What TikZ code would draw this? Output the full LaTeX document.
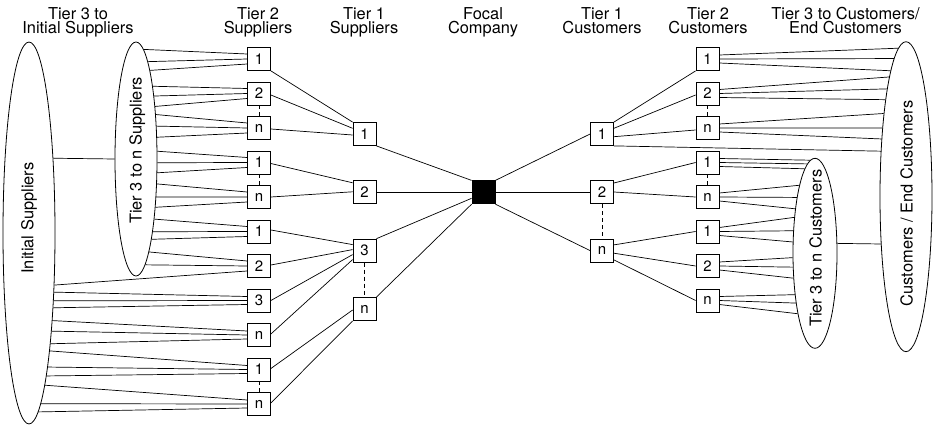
\documentclass[tikz,border=0pt]{standalone}
\usepackage{fontspec}
\setmainfont{TeX Gyre Heros}
\usetikzlibrary{shapes.geometric,calc}
\tikzset{
  box/.style={draw, line width=0.8pt, minimum size=23pt, inner sep=0pt, fill=white, font=\fontsize{15}{17}\selectfont},
  focal/.style={draw, fill=black, line width=0.8pt, minimum size=23pt, inner sep=0pt},
  hdr/.style={align=center, inner sep=0pt, anchor=north, font=\fontsize{16.4}{14.5}\selectfont},
  conn/.style={line width=0.7pt},
  dots/.style={line width=0.7pt, dash pattern=on 4pt off 3pt},
  oval/.style={draw, ellipse, line width=0.8pt, inner sep=0pt},
  ovaltext/.style={rotate=90, anchor=base, inner sep=0pt, font=\fontsize{16.4}{16}\selectfont},
}
\begin{document}
\begin{tikzpicture}[x=1pt,y=-1pt]
\useasboundingbox (0,0) rectangle (935,425);

% headers
\node[hdr] (h1) at (78,7) {Tier 3 to\\Initial Suppliers};
\node[hdr] (h2) at (258,7) {Tier 2\\Suppliers};
\node[hdr] (h3) at (364,7) {Tier 1\\Suppliers};
\node[hdr] (h4) at (483,7) {Focal\\Company};
\node[hdr] (h5) at (602,7) {Tier 1\\Customers};
\node[hdr] (h6) at (708,7) {Tier 2\\Customers};
\node[hdr] (h7) at (845.5,7) {Tier 3 to Customers/\\End Customers};

% ellipses
\node[oval, minimum width=52pt, minimum height=382pt] (IS) at (29,233) {};
\node[oval, minimum width=42pt, minimum height=234pt] (t3s) at (136,159) {};
\node[oval, minimum width=52pt, minimum height=310pt] (CE) at (906,196.7) {};
\node[oval, minimum width=44pt, minimum height=190pt] (t3c) at (815,253.3) {};

\node[ovaltext] (tIS) at (33.4,218) {Initial Suppliers};
\node[ovaltext] (tt3s) at (141.5,150.5) {Tier 3 to n Suppliers};
\node[ovaltext] (tCE) at (912.5,203.3) {Customers / End Customers};
\node[ovaltext] (tt3c) at (821.5,248.3) {Tier 3 to n Customers};

% boxes: tier 2 suppliers
\node[box] (s2a) at (259,59) {1};
\node[box] (s2b) at (259,93.5) {2};
\node[box] (s2c) at (259,128) {n};
\node[box] (s2d) at (259,162.5) {1};
\node[box] (s2e) at (259,197) {n};
\node[box] (s2f) at (259,231.5) {1};
\node[box] (s2g) at (259,266) {2};
\node[box] (s2h) at (259,300.5) {3};
\node[box] (s2i) at (259,335) {n};
\node[box] (s2j) at (259,369.5) {1};
\node[box] (s2k) at (259,404) {n};
% tier 1 suppliers
\node[box] (s1a) at (364.5,134) {1};
\node[box] (s1b) at (364.5,192.3) {2};
\node[box] (s1c) at (364.5,250.6) {3};
\node[box] (s1d) at (364.5,309) {n};
% focal
\node[focal] (F) at (483.5,192.3) {};
% tier 1 customers
\node[box] (c1a) at (602,134) {1};
\node[box] (c1b) at (602,192.3) {2};
\node[box] (c1c) at (602,250.6) {n};
% tier 2 customers
\node[box] (c2a) at (707.5,59) {1};
\node[box] (c2b) at (707.5,93.5) {2};
\node[box] (c2c) at (707.5,128) {n};
\node[box] (c2d) at (707.5,162.5) {1};
\node[box] (c2e) at (707.5,197) {n};
\node[box] (c2f) at (707.5,231.5) {1};
\node[box] (c2g) at (707.5,266) {2};
\node[box] (c2h) at (707.5,300.5) {n};

% tier 3 suppliers ellipse -> tier 2 suppliers
\foreach \ey/\bn/\bo in {48/s2a/-5, 59/s2a/0, 70/s2a/5,
  86/s2b/-5, 94/s2b/0, 105/s2b/5,
  115/s2c/-5, 126/s2c/0, 137/s2c/5,
  151/s2d/-5, 163/s2d/0, 173/s2d/5,
  184/s2e/-5, 197/s2e/0, 208/s2e/5,
  221/s2f/-5, 232/s2f/0, 242/s2f/5,
  255/s2g/-5, 266/s2g/0}{
  \pgfmathsetmacro\ang{atan2(-(\ey-159), 21*sqrt(1-((\ey-159)/117)^2))}
  \draw[conn] (t3s.\ang) -- ($(\bn.west)+(0,\bo)$);
}
% initial suppliers ellipse -> tier 2 suppliers
\foreach \ey/\bn/\bo in {286/s2g/5,
  292.5/s2h/-4, 300.5/s2h/0, 308.5/s2h/4,
  322/s2i/-4, 334/s2i/0, 347/s2i/4,
  355/s2j/-4, 370/s2j/0, 382/s2j/4,
  393/s2k/-4, 404/s2k/0, 415/s2k/4}{
  \pgfmathsetmacro\ang{atan2(-(\ey-233), 26*sqrt(1-((\ey-233)/191)^2))}
  \draw[conn] (IS.\ang) -- ($(\bn.west)+(0,\bo)$);
}
% ellipse to ellipse
\pgfmathsetmacro\angA{atan2(-(159-233), 26*sqrt(1-((159-233)/191)^2))}
\draw[conn] (IS.\angA) -- (t3s.west);
\pgfmathsetmacro\angB{atan2(-(243.3-253.3), 22*sqrt(1-((243.3-253.3)/95)^2))}
\pgfmathsetmacro\angC{atan2(-(243.3-196.7), -26*sqrt(1-((243.3-196.7)/155)^2))}
\draw[conn] (t3c.\angB) -- (CE.\angC);

% tier 2 suppliers -> tier 1 suppliers
\draw[conn] (s2a.south east) -- (s1a.north west);
\draw[conn] ($(s2b.east)+(0,1.5)$) -- ($(s1a.west)+(0,-5.7)$);
\draw[conn] ($(s2c.east)+(0,1)$) -- ($(s1a.west)+(0,1)$);
\draw[conn] ($(s2d.east)+(0,1)$) -- ($(s1b.west)+(0,-9.5)$);
\draw[conn] (s2e.east) -- ($(s1b.west)+(0,-0.5)$);
\draw[conn] ($(s2f.east)+(0,-1.5)$) -- ($(s1c.west)+(0,-6)$);
\draw[conn] ($(s2g.east)+(0,-1)$) -- ($(s1c.west)+(0,-1)$);
\draw[conn] (s2h.east) -- ($(s1c.west)+(0,4)$);
\draw[conn] ($(s2i.east)+(0,-1)$) -- ($(s1c.west)+(0,9)$);
\draw[conn] ($(s2j.east)+(0,-1)$) -- ($(s1d.west)+(0,1)$);
\draw[conn] ($(s2k.east)+(0,-1)$) -- (s1d.south west);

% tier 1 suppliers -> focal
\draw[conn] (s1a.south east) -- (F.north west);
\draw[conn] (s1b.east) -- (F.west);
\draw[conn] (s1c.north east) -- ($(F.west)+(0,6)$);
\draw[conn] (s1d.north east) -- (F.south west);

% focal -> tier 1 customers
\draw[conn] (F.north east) -- (c1a.west);
\draw[conn] (F.east) -- (c1b.west);
\draw[conn] (F.south east) -- (c1c.west);

% tier 1 customers -> tier 2 customers
\draw[conn] (c1a.north east) -- (c2a.south west);
\draw[conn] ($(c1a.east)+(0,-5.7)$) -- ($(c2b.west)+(0,1.5)$);
\draw[conn] ($(c1a.east)+(0,2.7)$) -- ($(c2c.west)+(0,2)$);
\pgfmathsetmacro\angD{atan2(-(153.3-196.7), -26*sqrt(1-((153.3-196.7)/155)^2))}
\draw[conn] (c1a.south east) -- (CE.\angD);
\draw[conn] ($(c1b.east)+(0,-9.3)$) -- (c2d.west);
\draw[conn] ($(c1b.east)+(0,-0.3)$) -- (c2e.west);
\draw[conn] ($(c1c.east)+(0,-5.7)$) -- (c2f.west);
\draw[conn] ($(c1c.east)+(0,2.6)$) -- (c2g.west);
\draw[conn] ($(c1c.east)+(0,9.3)$) -- (c2h.west);

% tier 2 customers -> end customers ellipse
\foreach \bn/\bo/\ey in {c2a/-4/51.7, c2a/0/60, c2a/4/73.3,
  c2b/-4/81.7, c2b/0/93.3, c2b/4/101.7,
  c2c/-4/116.7, c2c/0/130, c2c/4/141.7}{
  \pgfmathsetmacro\ang{atan2(-(\ey-196.7), -26*sqrt(1-((\ey-196.7)/155)^2))}
  \draw[conn] ($(\bn.east)+(0,\bo)$) -- (CE.\ang);
}
% tier 2 customers -> tier 3 customers ellipse
\foreach \bn/\bo/\ey in {c2d/-4/161, c2d/0/165, c2d/4/170,
  c2e/-4/186.7, c2e/0/198.3, c2e/4/210,
  c2f/-4/219, c2f/0/231.7, c2f/4/242.3,
  c2g/-4/257.3, c2g/0/266.7, c2g/4/277.7,
  c2h/-4/292.7, c2h/0/301.7, c2h/4/312.7}{
  \pgfmathsetmacro\ang{atan2(-(\ey-253.3), -22*sqrt(1-((\ey-253.3)/95)^2))}
  \draw[conn] ($(\bn.east)+(0,\bo)$) -- (t3c.\ang);
}

% dashed continuation marks
\draw[dots] (s2b.south) -- (s2c.north);
\draw[dots] (s2d.south) -- (s2e.north);
\draw[dots] (s2j.south) -- (s2k.north);
\draw[dots] (s1c.south) -- (s1d.north);
\draw[dots] (c1b.south) -- (c1c.north);
\draw[dots] (c2b.south) -- (c2c.north);
\draw[dots] (c2d.south) -- (c2e.north);
\end{tikzpicture}
\end{document}
